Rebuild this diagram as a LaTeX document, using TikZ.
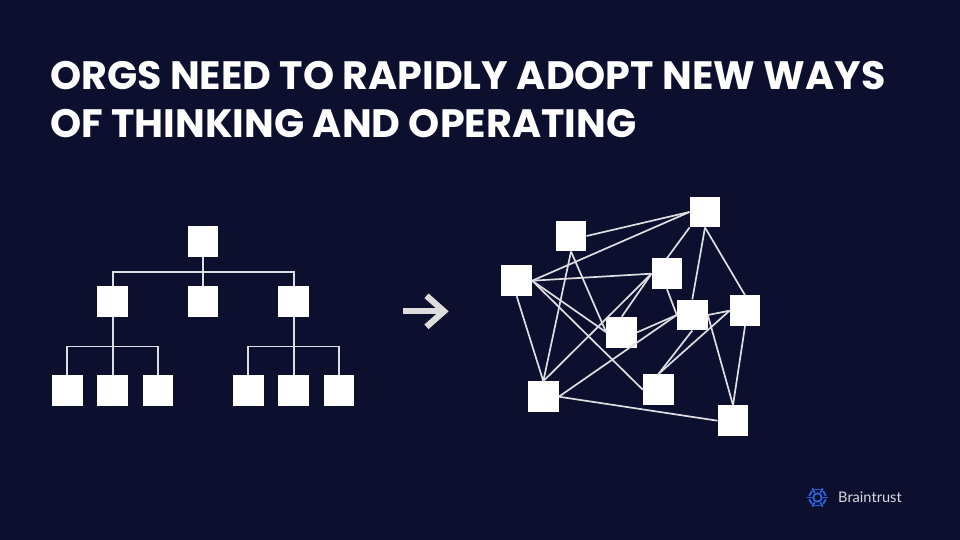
\documentclass[tikz,border=0pt]{standalone}
\usepackage{fontspec}
\setmainfont{Poppins}
\newfontfamily\titlefont[UprightFont=*-Bold]{Poppins}
\newfontfamily\logofont{Lato}
\usetikzlibrary{calc}
\definecolor{bgnavy}{HTML}{0D0F2F}
\definecolor{linkgrey}{HTML}{DEDEE2}
\definecolor{arrowgrey}{HTML}{DDDDDD}
\definecolor{logoblue}{HTML}{2B66E0}
\definecolor{logotext}{HTML}{D8D9E0}
\tikzset{
  sq/.style={rectangle,fill=white,inner sep=0pt,minimum size=30.6pt},
  link/.style={draw=linkgrey,line width=1.7pt},
  titletext/.style={text=white,anchor=base west,inner sep=0pt,font=\titlefont\fontsize{39.6}{46}\selectfont},
  logotextstyle/.style={text=logotext,anchor=west,inner sep=0pt,font=\logofont\fontsize{14.6}{16}\selectfont},
}
\begin{document}
\begin{tikzpicture}[x=1pt,y=-1pt]
\fill[bgnavy] (0,0) rectangle (960,540);
\useasboundingbox (0,0) rectangle (960,540);
\node[titletext] (t1) at (50,90) {ORGS NEED TO RAPIDLY ADOPT NEW WAYS};
\node[titletext] (t2) at (50,137.7) {OF THINKING AND OPERATING};
\node[sq] (top) at (203,241.7) {};
\node[sq] (ml) at (112.7,301.3) {};
\node[sq] (mc) at (203,301.3) {};
\node[sq] (mr) at (293.7,301.3) {};
\node[sq] (b1) at (67.3,390.7) {};
\node[sq] (b2) at (112.7,390.7) {};
\node[sq] (b3) at (158,390.7) {};
\node[sq] (b4) at (248.3,390.7) {};
\node[sq] (b5) at (293.7,390.7) {};
\node[sq] (b6) at (339,390.7) {};
\draw[link] (top.south) -- (mc.north);
\draw[link] (top.south) -- ++(0,15) -| (ml.north);
\draw[link] (top.south) -- ++(0,15) -| (mr.north);
\draw[link] (ml.south) -- (b2.north);
\draw[link] (ml.south) -- ++(0,29.7) -| (b1.north);
\draw[link] (ml.south) -- ++(0,29.7) -| (b3.north);
\draw[link] (mr.south) -- (b5.north);
\draw[link] (mr.south) -- ++(0,29.7) -| (b4.north);
\draw[link] (mr.south) -- ++(0,29.7) -| (b6.north);
% arrow
\coordinate (arrs) at (402.7,311.3);
\coordinate (arre) at (444,311.3);
\draw[arrowgrey,line width=6pt] (arrs) -- (arre);
\draw[arrowgrey,line width=6.2pt,line join=miter] ($(arre)+(-17.5,-15.5)$) -- (arre) -- ($(arre)+(-17.5,15.5)$);
% network
\node[sq] (A) at (705,212) {};
\node[sq] (B) at (571,236) {};
\node[sq] (C) at (516.7,280.7) {};
\node[sq] (D) at (667,273.7) {};
\node[sq] (E) at (692.3,315) {};
\node[sq] (F) at (745,310.7) {};
\node[sq] (G) at (621.7,332.3) {};
\node[sq] (H) at (658.3,389.7) {};
\node[sq] (I) at (543.3,396.7) {};
\node[sq] (J) at (733,420.7) {};
\foreach \p/\q in {B.east/A.west,C.east/A.west,D.north/A.south west,A.south/E.north,A.south/F.north,
  C.east/D.west,C.east/G.west,C.east/H.west,C.south/I.north,B.south/I.north,B.south/G.west,
  D.west/I.north,D.west/G.north,D.south/E.west,E.west/G.east,E.west/I.east,E.east/F.west,
  E.south/H.north,F.west/H.north,F.south/J.north,E.east/J.north,I.east/J.west}
  \draw[link] (\p) -- (\q);
% logo
\node[logotextstyle] (brand) at (838,497) {Braintrust};
\coordinate (lg) at (817.5,497.5);
\draw[logoblue,line width=1.8pt] (lg) circle (4.2pt);
\foreach \a in {0,60,...,300}{
  \draw[logoblue,line width=1.8pt,line cap=round] ($(lg)+(\a:6pt)$) -- ($(lg)+(\a:10pt)$);
  \draw[logoblue,line width=1.8pt,line cap=round] ($(lg)+(\a+14:8.4pt)$) arc[start angle=\a+14,end angle=\a+46,radius=8.4pt];
}
\end{tikzpicture}
\end{document}
